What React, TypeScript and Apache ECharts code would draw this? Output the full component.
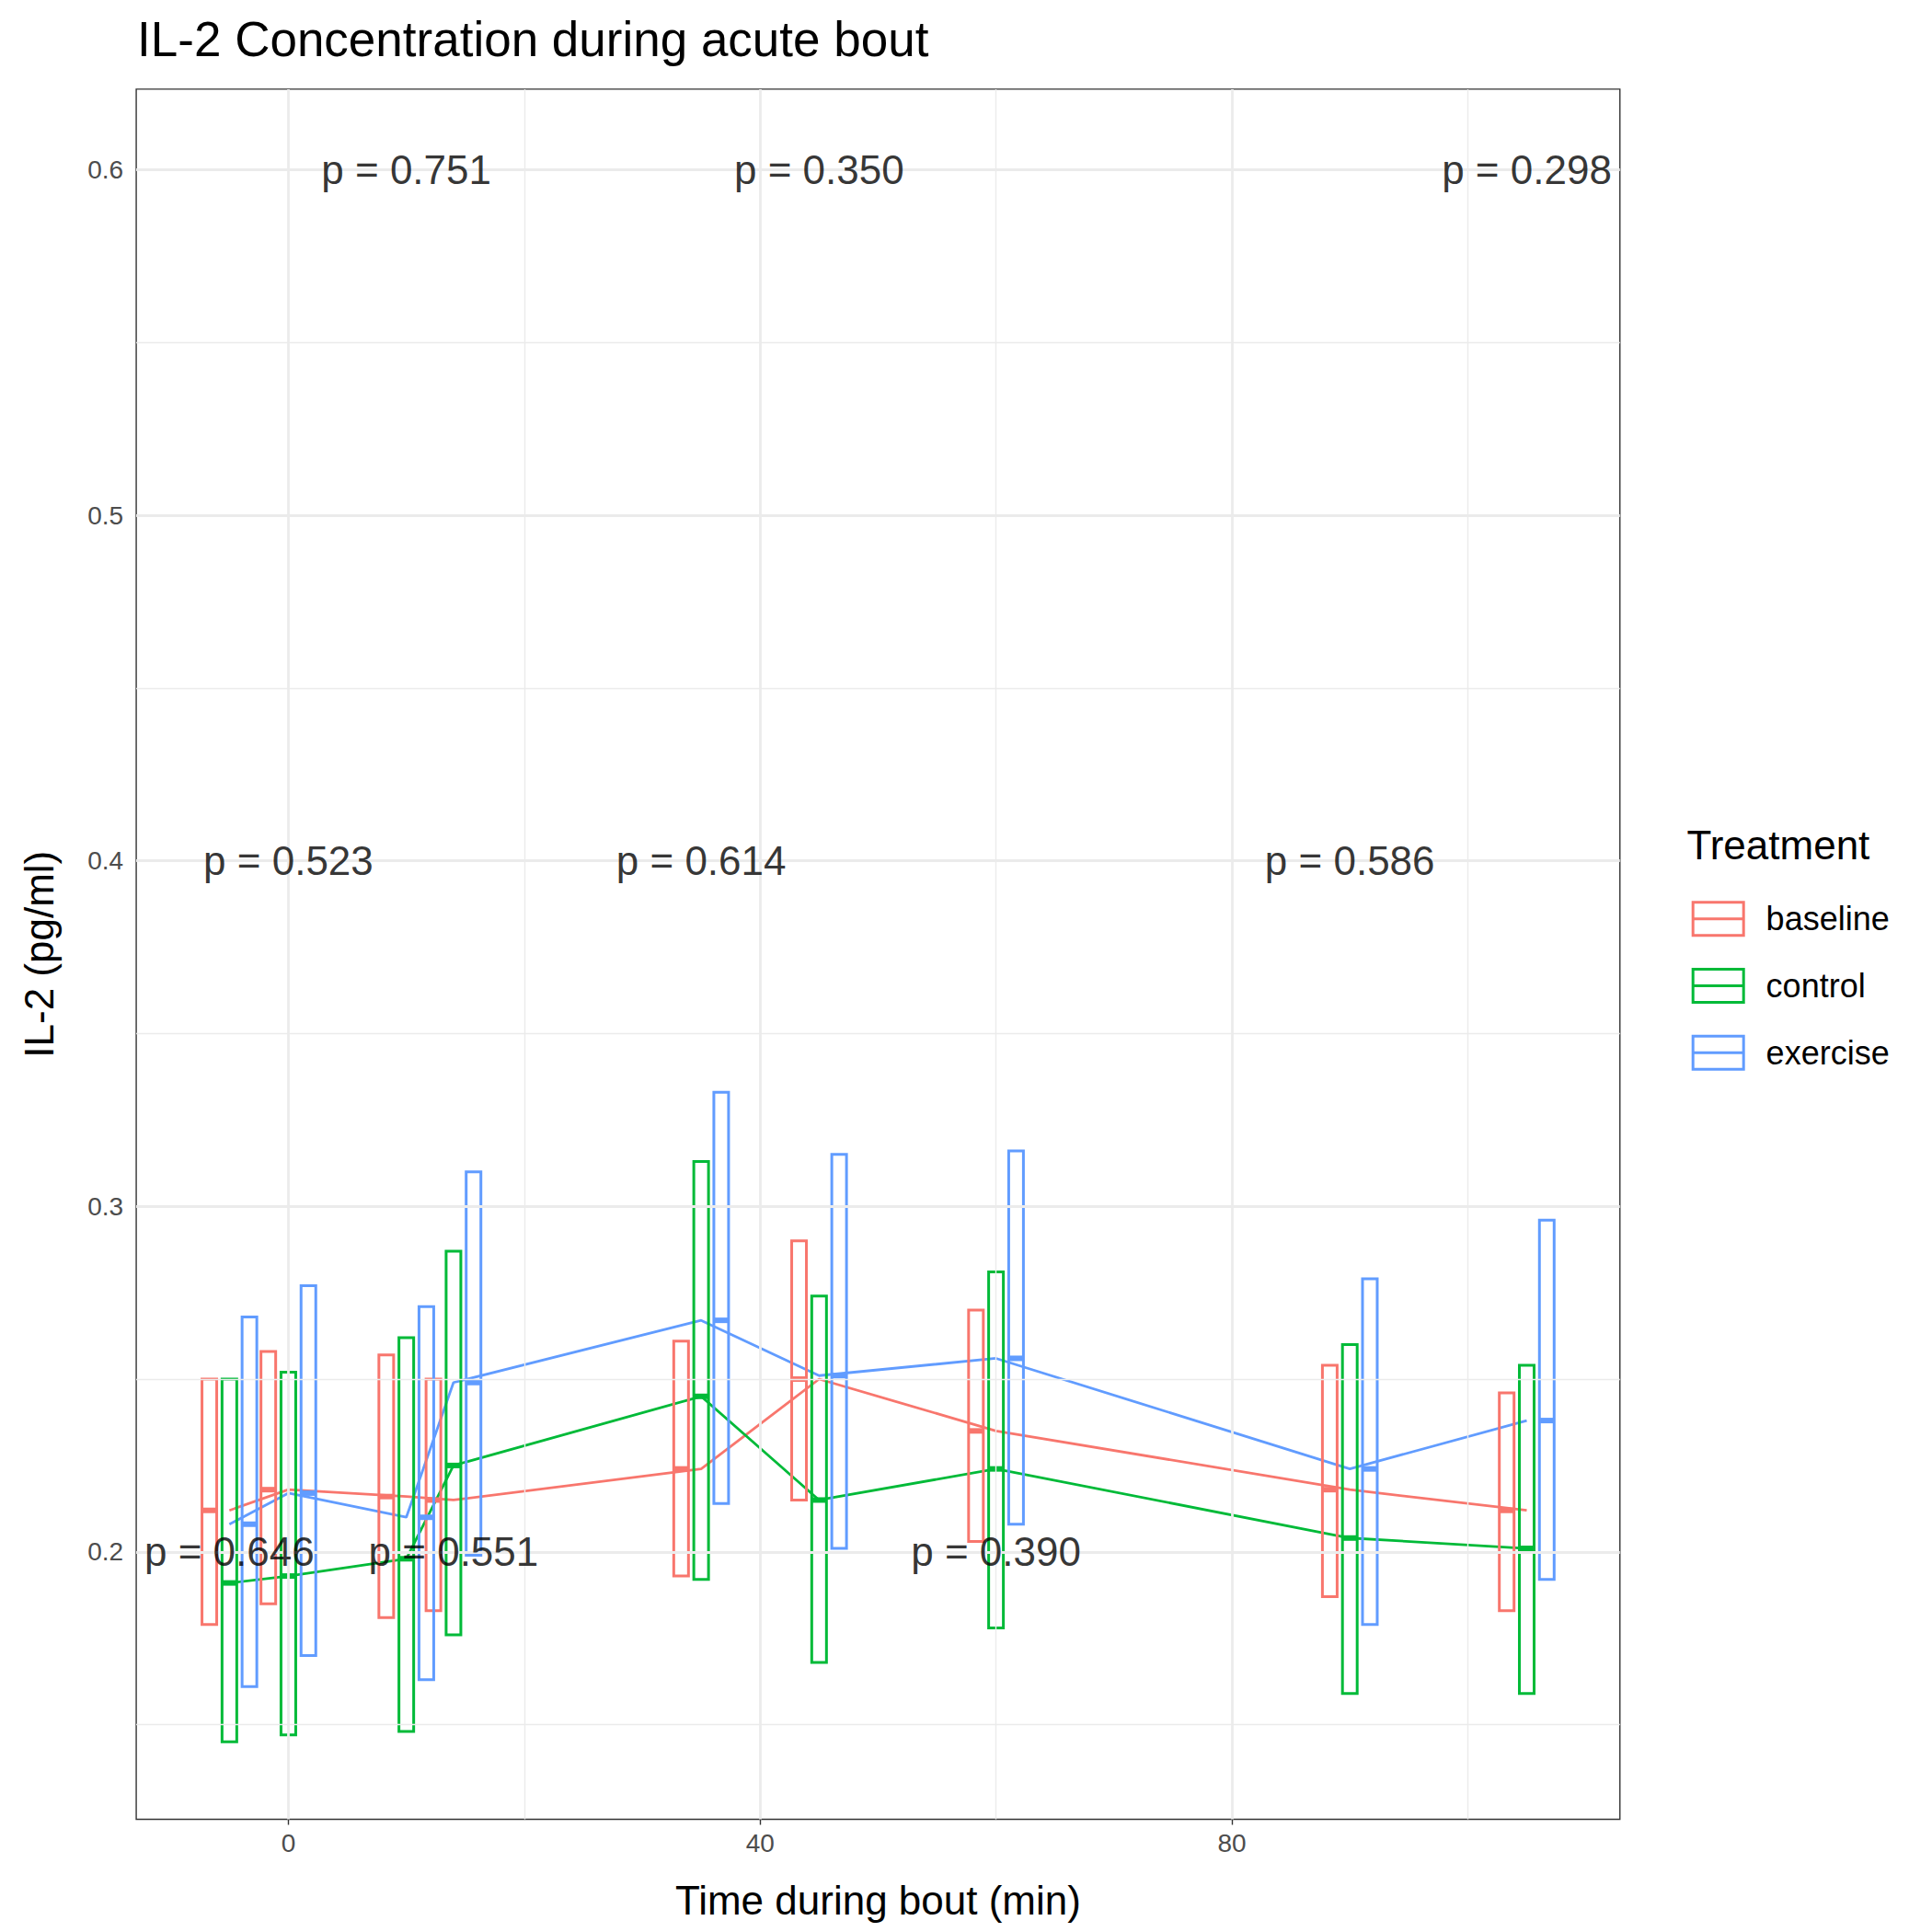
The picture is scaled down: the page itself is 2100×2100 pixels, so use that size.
import React, { useEffect, useRef } from 'react';
import * as echarts from 'echarts';

const S = 2100 / 1560;

const times = [-5, 0, 10, 14, 35, 45, 60, 90, 105];
const groups = ['baseline', 'control', 'exercise'];
const colors = ['#F8766D', '#00BA38', '#619CFF'];
const dodge = [-1.7, 0, 1.7];

const baselineMean = [0.212, 0.218, 0.216, 0.215, 0.224, 0.25, 0.235, 0.218, 0.212];
const baselineLow = [0.179, 0.185, 0.181, 0.183, 0.193, 0.215, 0.203, 0.187, 0.183];
const baselineHigh = [0.25, 0.258, 0.257, 0.25, 0.261, 0.29, 0.27, 0.254, 0.246];

const controlMean = [0.191, 0.193, 0.198, 0.225, 0.245, 0.215, 0.224, 0.204, 0.201];
const controlLow = [0.145, 0.147, 0.148, 0.176, 0.192, 0.168, 0.178, 0.159, 0.159];
const controlHigh = [0.25, 0.252, 0.262, 0.287, 0.313, 0.274, 0.281, 0.26, 0.254];

const exerciseMean = [0.208, 0.217, 0.21, 0.249, 0.267, 0.251, 0.256, 0.224, 0.238];
const exerciseLow = [0.161, 0.17, 0.163, 0.199, 0.214, 0.201, 0.208, 0.179, 0.192];
const exerciseHigh = [0.268, 0.277, 0.271, 0.31, 0.333, 0.315, 0.316, 0.279, 0.296];

const pTimes = [10, 45, 105, 0, 35, 90, -5, 14, 60];
const pLevels = [0.6, 0.6, 0.6, 0.4, 0.4, 0.4, 0.2, 0.2, 0.2];
const pLabels = ['p = 0.751', 'p = 0.350', 'p = 0.298', 'p = 0.523', 'p = 0.614', 'p = 0.586', 'p = 0.646', 'p = 0.551', 'p = 0.390'];

const xMajor = [0, 40, 80];
const xMinor = [20, 60, 100];
const yMajor = [0.2, 0.3, 0.4, 0.5, 0.6];
const yMinor = [0.15, 0.25, 0.35, 0.45, 0.55];

const means = [baselineMean, controlMean, exerciseMean];
const lows = [baselineLow, controlLow, exerciseLow];
const highs = [baselineHigh, controlHigh, exerciseHigh];

const FONT = 'Liberation Sans, Arial, sans-serif';

export default function App() {
  const ref = useRef<HTMLDivElement | null>(null);

  useEffect(() => {
    if (!ref.current) return;
    const chart = echarts.init(ref.current, null, { renderer: 'svg' });

    const gridLine = (w: number) => ({ color: '#ebebeb', width: w, type: 'solid' as const });
    const gridSeries = {
      type: 'line',
      data: [],
      silent: true,
      z: 0,
      markLine: {
        silent: true,
        symbol: 'none',
        animation: false,
        label: { show: false },
        data: [
          ...xMinor.map((v) => ({ xAxis: v, lineStyle: gridLine(1.4) })),
          ...yMinor.map((v) => ({ yAxis: v, lineStyle: gridLine(1.4) })),
          ...xMajor.map((v) => ({ xAxis: v, lineStyle: gridLine(2.8) })),
          ...yMajor.map((v) => ({ yAxis: v, lineStyle: gridLine(2.8) })),
        ],
      },
    };

    const boxW = 16;
    const boxSeries = groups.map((g, gi) => ({
      type: 'custom',
      name: g,
      z: 3,
      data: times.map((t, i) => [t + dodge[gi], lows[gi][i], highs[gi][i], means[gi][i]]),
      encode: { x: 0, y: [1, 2] },
      renderItem: (params: any, api: any) => {
        const x = api.value(0);
        const lo = api.coord([x, api.value(1)]);
        const hi = api.coord([x, api.value(2)]);
        const m = api.coord([x, api.value(3)]);
        return {
          type: 'group',
          children: [
            {
              type: 'rect',
              shape: { x: lo[0] - boxW / 2, y: hi[1], width: boxW, height: lo[1] - hi[1] },
              style: { fill: 'none', stroke: colors[gi], lineWidth: 3 },
            },
            {
              type: 'line',
              shape: { x1: m[0] - boxW / 2, y1: m[1], x2: m[0] + boxW / 2, y2: m[1] },
              style: { stroke: colors[gi], lineWidth: 6 },
            },
          ],
        };
      },
    }));

    const lineSeries = groups.map((g, gi) => ({
      type: 'line',
      name: g + ' mean',
      z: 2,
      symbol: 'none',
      data: times.map((t, i) => [t, means[gi][i]]),
      lineStyle: { color: colors[gi], width: 2.8 },
    }));

    const pSeries = {
      type: 'scatter',
      z: 5,
      symbolSize: 0,
      data: pTimes.map((t, i) => ({ value: [t, pLevels[i]], name: pLabels[i] })),
      label: {
        show: true,
        position: 'inside',
        formatter: (p: any) => p.name,
        fontFamily: FONT,
        fontSize: 44,
        color: '#000',
      },
    };

    const legendItems: any[] = [
      {
        type: 'text',
        left: 1362 * S,
        top: 666 * S,
        style: { text: 'Treatment', fontFamily: FONT, fontSize: 44, fill: '#000' },
      },
    ];
    groups.forEach((g, gi) => {
      const cy = (742 + gi * 54) * S;
      legendItems.push({
        type: 'rect',
        shape: { x: 1367 * S, y: cy - 18, width: 55, height: 36 },
        style: { fill: 'none', stroke: colors[gi], lineWidth: 3 },
      });
      legendItems.push({
        type: 'line',
        shape: { x1: 1367 * S, y1: cy, x2: 1367 * S + 55, y2: cy },
        style: { stroke: colors[gi], lineWidth: 3 },
      });
      legendItems.push({
        type: 'text',
        x: 1426 * S,
        y: cy,
        style: { text: g, fontFamily: FONT, fontSize: 36, fill: '#000', verticalAlign: 'middle' },
      });
    });

    chart.setOption({
      animation: false,
      backgroundColor: '#fff',
      title: {
        text: 'IL-2 Concentration during acute bout',
        left: 110 * S - 4,
        top: 8 * S,
        textStyle: { fontFamily: FONT, fontSize: 53, fontWeight: 'normal', color: '#000' },
      },
      grid: {
        left: 110 * S,
        right: (1560 - 1308) * S,
        top: 72 * S,
        bottom: (1560 - 1469) * S,
        show: true,
        borderColor: '#333',
        borderWidth: 1.4,
        backgroundColor: '#fff',
      },
      xAxis: {
        type: 'value',
        min: -12.9,
        max: 112.9,
        name: 'Time during bout (min)',
        nameLocation: 'middle',
        nameGap: 66,
        nameTextStyle: { fontFamily: FONT, fontSize: 44, color: '#000' },
        axisLine: { show: false },
        splitLine: { show: false },
        axisTick: { show: true, customValues: xMajor, length: 6, lineStyle: { color: '#333', width: 1.4 } },
        axisLabel: { customValues: xMajor, fontFamily: FONT, fontSize: 28, color: '#4d4d4d', margin: 12 },
      },
      yAxis: {
        type: 'value',
        min: 0.1226,
        max: 0.6233,
        name: 'IL-2 (pg/ml)',
        nameLocation: 'middle',
        nameGap: 84,
        nameTextStyle: { fontFamily: FONT, fontSize: 44, color: '#000' },
        axisLine: { show: false },
        splitLine: { show: false },
        axisTick: { show: true, customValues: yMajor, length: 6, lineStyle: { color: '#333', width: 1.4 } },
        axisLabel: {
          customValues: yMajor,
          formatter: (v: number) => v.toFixed(1),
          fontFamily: FONT,
          fontSize: 28,
          color: '#4d4d4d',
          margin: 14,
        },
      },
      graphic: legendItems,
      series: [gridSeries, ...lineSeries, ...boxSeries, pSeries],
    });

    return () => chart.dispose();
  }, []);

  return <div ref={ref} style={{ position: 'absolute', left: 0, top: 0, width: 2100, height: 2100 }} />;
}
